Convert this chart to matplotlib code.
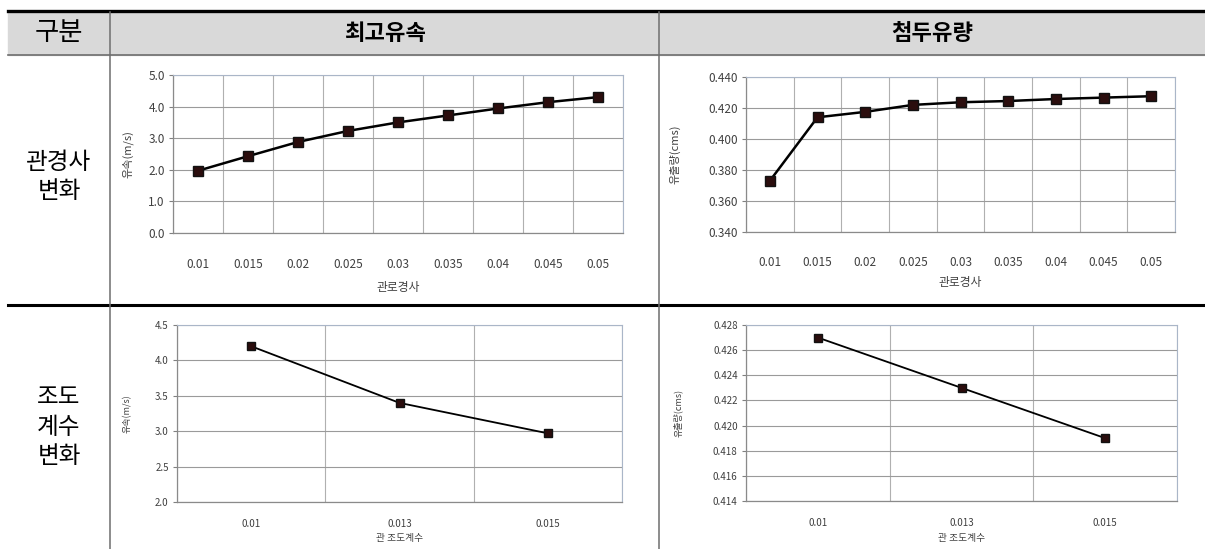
import matplotlib.pyplot as plt
from matplotlib.lines import Line2D
from matplotlib.patches import Rectangle
import numpy as np

plt.rcParams['font.family'] = ['Noto Sans CJK KR', 'DejaVu Sans']

W, H = 1205, 549

# 관경사 변화
slope_cats = ['0.01', '0.015', '0.02', '0.025', '0.03', '0.035', '0.04', '0.045', '0.05']
slope_vel = [1.97, 2.43, 2.88, 3.23, 3.50, 3.72, 3.94, 4.14, 4.30]
slope_q = [0.373, 0.414, 0.4175, 0.422, 0.4237, 0.4245, 0.4258, 0.4267, 0.4276]

# 조도계수 변화
rough_cats = ['0.01', '0.013', '0.015']
rough_vel = [4.2, 3.4, 2.97]
rough_q = [0.427, 0.423, 0.419]

fig = plt.figure(figsize=(W / 100, H / 100), dpi=100)


def fx(x):
    return x / W


def fy(y):
    return 1 - y / H


def add_ax(l, t, r, b):
    return fig.add_axes([fx(l), fy(b), (r - l) / W, (b - t) / H])


def hline(y, x0, x1, lw, color):
    fig.add_artist(Line2D([fx(x0), fx(x1)], [fy(y), fy(y)], lw=lw, color=color,
                          transform=fig.transFigure))


def vline(x, y0, y1, lw, color):
    fig.add_artist(Line2D([fx(x), fx(x)], [fy(y0), fy(y1)], lw=lw, color=color,
                          transform=fig.transFigure))


# table frame
fig.add_artist(Rectangle((fx(8), fy(55)), (W - 8) / W, 43 / H, color='#d9d9d9',
                         transform=fig.transFigure, zorder=0))
hline(11, 8, W, 2.4, 'black')
hline(55, 8, W, 1.2, '#6e6e6e')
hline(305, 8, W, 2.2, 'black')
vline(110, 12, H, 1.1, '#6e6e6e')
vline(659, 12, H, 1.1, '#6e6e6e')

fig.text(fx(59), fy(33), '구분', ha='center', va='center', fontsize=19)
fig.text(fx(385), fy(33), '최고유속', ha='center', va='center', fontsize=16, fontweight='bold')
fig.text(fx(932), fy(33), '첨두유량', ha='center', va='center', fontsize=16, fontweight='bold')
fig.text(fx(59), fy(177), '관경사\n변화', ha='center', va='center', fontsize=17,
         linespacing=1.35, fontweight='light')
fig.text(fx(59), fy(427), '조도\n계수\n변화', ha='center', va='center', fontsize=17,
         linespacing=1.35, fontweight='light')


def chart(box, cats, vals, ylim, yticks, yfmt, ylabel, xlabel, ylab_x, xlab_y,
          tick_pad, fs, ms, lw):
    ax = add_ax(*box)
    n = len(cats)
    x = np.arange(n)
    ax.plot(x, vals, color='black', lw=lw, marker='s', ms=ms,
            mfc='#2b0d0d', mec='#111111', zorder=3, clip_on=False)
    ax.set_xlim(-0.5, n - 0.5)
    ax.set_ylim(*ylim)
    ax.set_yticks(yticks)
    ax.set_yticklabels([yfmt.format(v) for v in yticks])
    ax.set_xticks(x)
    ax.set_xticklabels(cats)
    ax.set_xticks(np.arange(n + 1) - 0.5, minor=True)
    ax.grid(True, axis='y', which='major', color='#9a9a9a', lw=0.8)
    ax.grid(True, axis='x', which='minor', color='#b0b0b0', lw=0.8)
    ax.tick_params(axis='x', which='major', length=0, pad=tick_pad, labelsize=fs,
                   labelcolor='#404040')
    ax.tick_params(axis='x', which='minor', length=0)
    ax.tick_params(axis='y', length=3, color='#808080', pad=3, labelsize=fs,
                   labelcolor='#404040')
    for s in ['left', 'bottom']:
        ax.spines[s].set_color('#8a8a8a')
        ax.spines[s].set_linewidth(0.9)
    for s in ['top', 'right']:
        ax.spines[s].set_color('#aab6c8')
        ax.spines[s].set_linewidth(0.8)
    ax.set_xlabel(xlabel, fontsize=fs, color='#404040')
    ax.xaxis.set_label_coords(0.5, xlab_y)
    ax.xaxis.label.set_va('center')
    ax.set_ylabel(ylabel, fontsize=fs - 0.5, color='#404040')
    ax.yaxis.set_label_coords(ylab_x, 0.5)
    ax.yaxis.label.set_va('center')
    return ax


chart((173, 75, 623, 233), slope_cats, slope_vel, (0, 5), np.arange(0, 5.01, 1.0),
      '{:.1f}', '유속(m/s)', '관로경사', -0.10, -0.348, 18, 8.5, 7.8, 1.8)
chart((746, 77, 1175, 232), slope_cats, slope_q, (0.34, 0.44),
      np.arange(0.34, 0.4401, 0.02), '{:.3f}', '유출량(cms)', '관로경사', -0.166,
      -0.329, 17, 8.5, 7.8, 1.8)
chart((177, 325, 622, 502), rough_cats, rough_vel, (2.0, 4.5),
      np.arange(2.0, 4.51, 0.5), '{:.1f}', '유속(m/s)', '관 조도계수', -0.112,
      -0.203, 12, 7, 6.3, 1.3)
chart((746, 325, 1177, 501), rough_cats, rough_q, (0.414, 0.428),
      np.arange(0.414, 0.42801, 0.002), '{:.3f}', '유출량(cms)', '관 조도계수', -0.158,
      -0.21, 12, 7, 6.3, 1.3)

fig.savefig('out.png', dpi=100)
